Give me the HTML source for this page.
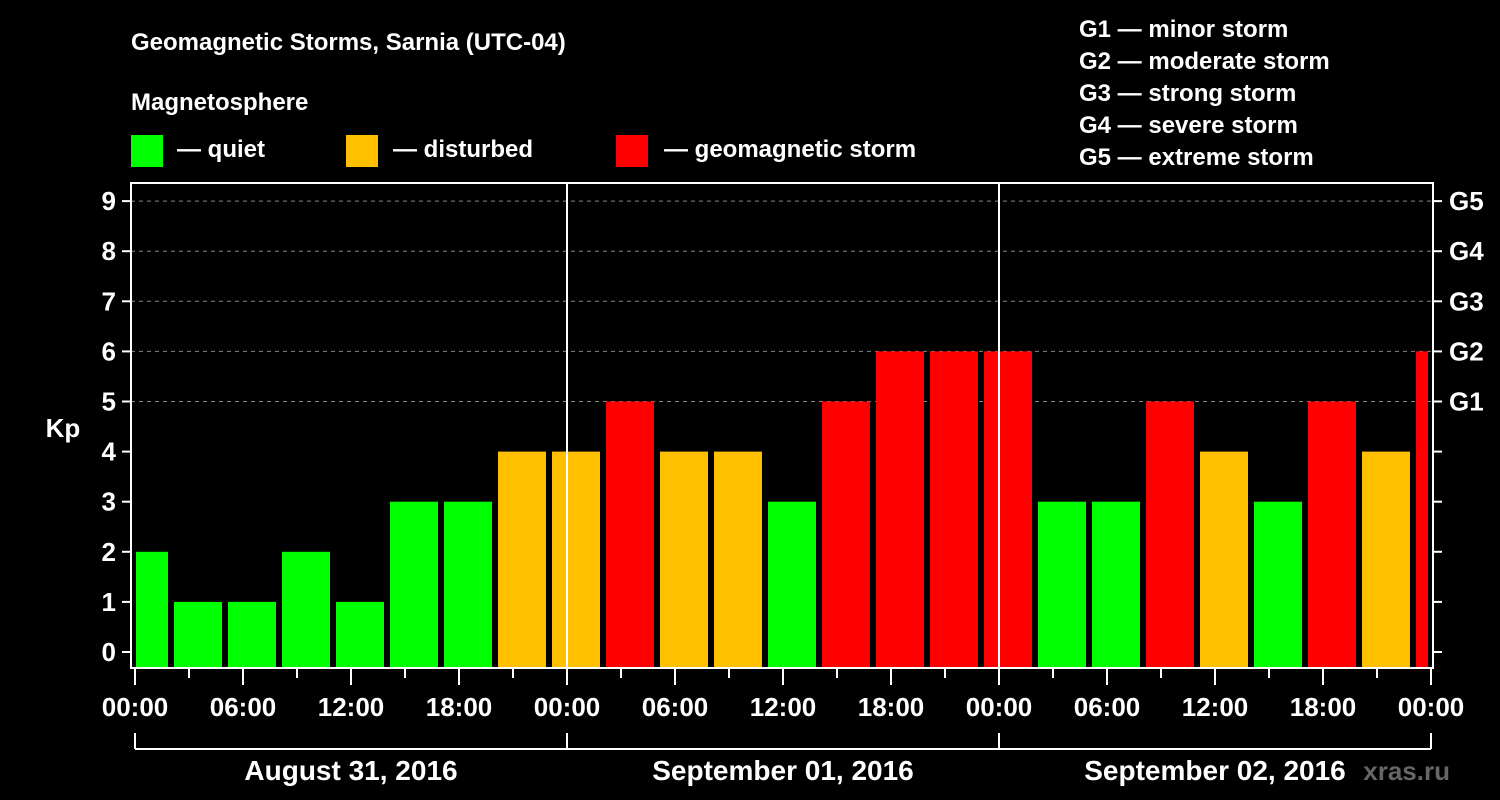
<!DOCTYPE html>
<html><head><meta charset="utf-8">
<style>
html,body{margin:0;padding:0;background:#000;}
svg{display:block;font-family:"Liberation Sans",Arial,sans-serif;font-weight:bold;}
</style></head>
<body>
<svg id="chart" width="1500" height="800" viewBox="0 0 1500 800" xmlns="http://www.w3.org/2000/svg">
<rect width="1500" height="800" fill="#000"/>
<text x="131" y="50" fill="#fff" font-size="24">Geomagnetic Storms, Sarnia (UTC-04)</text>
<text x="131" y="110" fill="#fff" font-size="24">Magnetosphere</text>
<g><rect x="131" y="135" width="32" height="32" fill="#00ff00"/><text x="177" y="157" fill="#fff" font-size="24">— quiet</text></g>
<g><rect x="346" y="135" width="32" height="32" fill="#ffc000"/><text x="393" y="157" fill="#fff" font-size="24">— disturbed</text></g>
<g><rect x="616" y="135" width="32" height="32" fill="#ff0000"/><text x="664" y="157" fill="#fff" font-size="24">— geomagnetic storm</text></g>
<g fill="#fff" font-size="24">
<text x="1079" y="37">G1 — minor storm</text>
<text x="1079" y="69">G2 — moderate storm</text>
<text x="1079" y="101">G3 — strong storm</text>
<text x="1079" y="133">G4 — severe storm</text>
<text x="1079" y="165">G5 — extreme storm</text>
</g>
<text x="63" y="437" fill="#fff" font-size="26" text-anchor="middle">Kp</text>
<g id="grid"></g>
<g id="bars"></g>
<g id="axes"></g>
<text x="1450" y="780" fill="#666" font-size="26" text-anchor="end">xras.ru</text>
</svg>
<script>
const kpValues=[2,1,1,2,1,3,3,4,4,5,4,4,3,5,6,6,6,3,3,5,4,3,5,4,6];
const yTicks=[0,1,2,3,4,5,6,7,8,9];
const gLabels=["G1","G2","G3","G4","G5"];
const gLevels=[5,6,7,8,9];
const hourLabels=["00:00","06:00","12:00","18:00","00:00","06:00","12:00","18:00","00:00","06:00","12:00","18:00","00:00"];
const dayLabels=["August 31, 2016","September 01, 2016","September 02, 2016"];
const NS="http://www.w3.org/2000/svg";
const X0=135,PXH=18,Y0=652,PXU=50.1,LEFT=131,RIGHT=1433,TOP=183,BOTTOM=668;
const xs=h=>X0+h*PXH, ys=v=>Y0-v*PXU;
function mk(tag,attrs,parent){const e=document.createElementNS(NS,tag);for(const k in attrs)e.setAttribute(k,attrs[k]);parent.appendChild(e);return e;}
const grid=document.getElementById('grid'),bars=document.getElementById('bars'),axes=document.getElementById('axes');
gLevels.forEach(v=>{const l=mk('line',{x1:LEFT,x2:RIGHT,y1:ys(v),y2:ys(v),stroke:'#888','stroke-dasharray':'4,4','stroke-width':1},grid);

});
kpValues.forEach((v,i)=>{const c=0.5+3*i;let x1=Math.max(xs(c)-24,LEFT+5),x2=Math.min(xs(c)+24,RIGHT-5);
const col=v>=5?'#ff0000':(v>=4?'#ffc000':'#00ff00');
const r=mk('rect',{x:x1,y:ys(v),width:x2-x1,height:BOTTOM-1-ys(v),fill:col},bars);

});
[xs(24),xs(48)].forEach(x=>{const l=mk('line',{x1:x,x2:x,y1:TOP,y2:BOTTOM,stroke:'#fff','stroke-width':2},axes);

});
const frame=mk('rect',{x:LEFT,y:TOP,width:RIGHT-LEFT,height:BOTTOM-TOP,fill:'none',stroke:'#fff','stroke-width':2},axes);


yTicks.forEach(v=>{mk('line',{x1:122,x2:LEFT,y1:ys(v),y2:ys(v),stroke:'#fff','stroke-width':2},axes);
mk('line',{x1:RIGHT,x2:1442,y1:ys(v),y2:ys(v),stroke:'#fff','stroke-width':2},axes);
const t=mk('text',{x:116,y:ys(v)+9,fill:'#fff','font-size':26,'text-anchor':'end'},axes);t.textContent=v;

});
gLevels.forEach((v,i)=>{const t=mk('text',{x:1449,y:ys(v)+9,fill:'#fff','font-size':26},axes);t.textContent=gLabels[i];

});
for(let h=0;h<=72;h+=3){const major=h%6===0;mk('line',{x1:xs(h),x2:xs(h),y1:BOTTOM,y2:BOTTOM+(major?17:10),stroke:'#fff','stroke-width':2},axes);}
hourLabels.forEach((s,i)=>{const t=mk('text',{x:xs(i*6),y:716,fill:'#fff','font-size':26,'text-anchor':'middle'},axes);t.textContent=s;

});
mk('line',{x1:xs(0),x2:xs(72),y1:749,y2:749,stroke:'#fff','stroke-width':2},axes);
[0,24,48,72].forEach(h=>mk('line',{x1:xs(h),x2:xs(h),y1:733,y2:749,stroke:'#fff','stroke-width':2},axes));
dayLabels.forEach((s,i)=>{const t=mk('text',{x:xs(12+24*i),y:780,fill:'#fff','font-size':28,'text-anchor':'middle'},axes);t.textContent=s;

});
</script>
</body></html>
